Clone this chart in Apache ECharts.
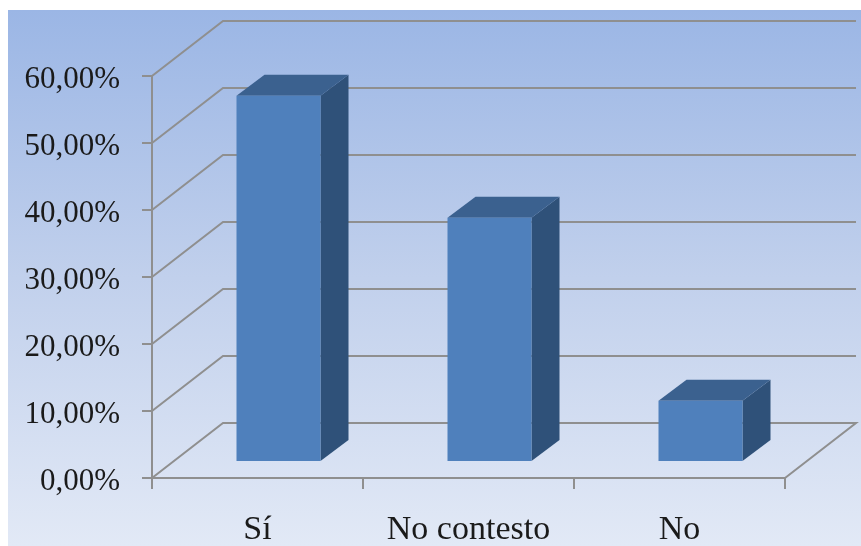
<!DOCTYPE html>
<html><head><meta charset="utf-8">
<style>html,body{margin:0;padding:0;background:#fff}#c{width:861px;height:546px}</style>
<script src="https://cdn.jsdelivr.net/npm/echarts@6/dist/echarts.min.js"></script>
</head><body><div id="c"></div>
<script>
const categories = ['Sí', 'No contesto', 'No'];
const percentValues = [54.5, 36.3, 9.0];
const tickValues = [0, 10, 20, 30, 40, 50, 60];
const tickLabels = ['0,00%', '10,00%', '20,00%', '30,00%', '40,00%', '50,00%', '60,00%'];

const WALL_DX = 71, WALL_DY = 55;
const BAR_SHIFT_X = 21, BAR_SHIFT_Y = 17, BAR_W = 84, BAR_DX = 28, BAR_DY = 21;
const GRID_COLOR = '#8f8f8f';
const FONT = '"Liberation Serif", serif';

const chart = echarts.init(document.getElementById('c'), null, { renderer: 'canvas' });
chart.setOption({
  animation: false,
  graphic: [{
    type: 'rect', z: -10, silent: true,
    shape: { x: 8, y: 10, width: 853, height: 536 },
    style: { fill: new echarts.graphic.LinearGradient(0, 0, 0, 1, [
      { offset: 0, color: '#9bb6e5' },
      { offset: 0.5, color: '#c1d0ec' },
      { offset: 1, color: '#e2e9f6' }
    ]) }
  }],
  grid: { left: 152, right: 76, top: 76, bottom: 68, outerBoundsMode: 'none' },
  xAxis: {
    type: 'category', data: categories, boundaryGap: true,
    axisLine: { lineStyle: { color: GRID_COLOR, width: 2 } },
    axisTick: { show: true, interval: 0, length: 11, lineStyle: { color: GRID_COLOR, width: 2 } },
    axisLabel: { color: '#1a1a1a', fontFamily: FONT, fontSize: 34, margin: 35, interval: 0, hideOverlap: false },
    splitLine: { show: false }
  },
  yAxis: {
    type: 'value', min: 0, max: 60, interval: 10,
    axisLine: { show: true, lineStyle: { color: GRID_COLOR, width: 2 } },
    axisTick: { show: true, length: 10, lineStyle: { color: GRID_COLOR, width: 2 } },
    axisLabel: { margin: 32,
      formatter: v => '{t|' + tickLabels[tickValues.indexOf(v)] + '}',
      rich: { t: { color: '#1a1a1a', fontFamily: FONT, fontSize: 31, lineHeight: 31, padding: [8, 0, 0, 0] } } },
    splitLine: { show: false }
  },
  series: [
    {
      type: 'custom', silent: true, z: 1, clip: false,
      data: tickValues.map(v => [0, v]),
      renderItem(params, api) {
        const g = params.coordSys, v = api.value(1);
        const y = api.coord([0, v])[1];
        const x0 = g.x, x1 = g.x + g.width;
        const pts = [[x0, y], [x0 + WALL_DX, y - WALL_DY], [x1 + WALL_DX, y - WALL_DY]];
        if (v === 0) pts.push([x1, y]);
        return { type: 'polyline', shape: { points: pts },
          style: { stroke: GRID_COLOR, lineWidth: 2, fill: null } };
      }
    },
    {
      type: 'custom', silent: true, z: 2, clip: false,
      data: percentValues.map((v, i) => [i, v]),
      renderItem(params, api) {
        const i = api.value(0), v = api.value(1);
        const top = api.coord([i, v]), base = api.coord([i, 0]);
        const l = top[0] + BAR_SHIFT_X - BAR_W / 2, r = l + BAR_W;
        const t = top[1] - BAR_SHIFT_Y, b = base[1] - BAR_SHIFT_Y;
        return { type: 'group', children: [
          { type: 'polygon', shape: { points: [[r, t], [r + BAR_DX, t - BAR_DY], [r + BAR_DX, b - BAR_DY], [r, b]] },
            style: { fill: '#2f5179' } },
          { type: 'polygon', shape: { points: [[l, t], [l + BAR_DX, t - BAR_DY], [r + BAR_DX, t - BAR_DY], [r, t]] },
            style: { fill: '#3b618f' } },
          { type: 'rect', shape: { x: l, y: t, width: BAR_W, height: b - t },
            style: { fill: '#4f80bc' } }
        ] };
      }
    }
  ]
});
</script></body></html>
